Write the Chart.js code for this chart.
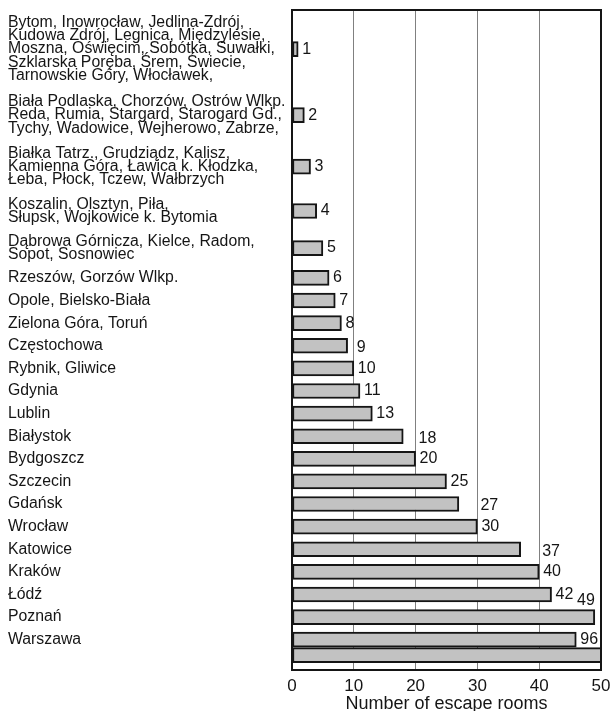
<!DOCTYPE html>
<html>
<head>
<meta charset="utf-8">
<script src="https://cdn.jsdelivr.net/npm/chart.js@4.4.1/dist/chart.umd.min.js"></script>
<style>
    html, body { margin: 0; padding: 0; background: #fff; }
    #wrap { width: 613px; height: 711px; position: relative; }
</style>
</head>
<body>
<div id="wrap"><canvas id="escapeChart"></canvas></div>
<script>
// City groups, top to bottom
const cityLabels = [
    ['Bytom, Inowrocław, Jedlina-Zdrój,', 'Kudowa Zdrój, Legnica, Międzylesie,', 'Moszna, Oświęcim, Sobótka, Suwałki,', 'Szklarska Poręba, Śrem, Świecie,', 'Tarnowskie Góry, Włocławek,'],
    ['Biała Podlaska, Chorzów, Ostrów Wlkp.', 'Reda, Rumia, Stargard, Starogard Gd.,', 'Tychy, Wadowice, Wejherowo, Zabrze,'],
    ['Białka Tatrz., Grudziądz, Kalisz,', 'Kamienna Góra, Ławica k. Kłodzka,', 'Łeba, Płock, Tczew, Wałbrzych'],
    ['Koszalin, Olsztyn, Piła,', 'Słupsk, Wojkowice k. Bytomia'],
    ['Dąbrowa Górnicza, Kielce, Radom,', 'Sopot, Sosnowiec'],
    'Rzeszów, Gorzów Wlkp.',
    'Opole, Bielsko-Biała',
    'Zielona Góra, Toruń',
    'Częstochowa',
    'Rybnik, Gliwice',
    'Gdynia',
    'Lublin',
    'Białystok',
    'Bydgoszcz',
    'Szczecin',
    'Gdańsk',
    'Wrocław',
    'Katowice',
    'Kraków',
    'Łódź',
    'Poznań',
    'Warszawa'
];

// Bar lengths as drawn (last one is the Warszawa bar running off the axis)
const barValues = [1, 2, 3, 4, 5, 6, 7, 8, 9, 10, 11, 13, 18, 20, 25, 27, 30, 37, 40, 42, 49, 46, 96];
const valueLabels = ['1', '2', '3', '4', '5', '6', '7', '8', '9', '10', '11', '13', '18', '20', '25', '27', '30', '37', '40', '42', '49', '96', ''];
const xTicks = [0, 10, 20, 30, 40, 50];

const FONT = "'Liberation Sans', Arial, sans-serif";
const INK = '#151515';

// Row slots: multi-line labels need more room than single-line ones
function lineCount(l) { return Array.isArray(l) ? l.length : 1; }
const rowSlots = [0];
for (let i = 1; i < cityLabels.length; i++) {
    const n = lineCount(cityLabels[i - 1]) + lineCount(cityLabels[i]);
    rowSlots.push(rowSlots[i - 1] + 0.32 * n + 0.36);
}
rowSlots.push(rowSlots[rowSlots.length - 1] + 0.68); // overflow bar under Warszawa
const lastCity = rowSlots[cityLabels.length - 1];

// Frame round the plot area
const framePlugin = {
    id: 'frame',
    afterDatasetsDraw(chart) {
        const { ctx, chartArea: a } = chart;
        ctx.save();
        ctx.strokeStyle = INK;
        ctx.lineWidth = 2;
        ctx.strokeRect(a.left, a.top, a.right - a.left, a.bottom - a.top);
        ctx.restore();
    }
};

// Value labels at bar ends, pushed past gridlines when they would cross one
const valuePlugin = {
    id: 'values',
    afterDraw(chart) {
        const { ctx, chartArea: a } = chart;
        const xs = chart.scales.x, ys = chart.scales.y;
        ctx.save();
        ctx.font = '16px ' + FONT;
        ctx.fillStyle = INK;
        ctx.textBaseline = 'middle';
        barValues.forEach((v, i) => {
            const txt = valueLabels[i];
            if (!txt) return;
            const end = xs.getPixelForValue(Math.min(v, 50));
            const w = ctx.measureText(txt).width;
            let x = end + 4;
            let y = ys.getPixelForValue(rowSlots[i]);
            if (x + w > a.right - 2) {
                ctx.textAlign = 'right';
                ctx.fillText(txt, end, y - 16);
                return;
            }
            for (const g of xTicks) {
                const gp = xs.getPixelForValue(g);
                if (gp > x && gp < x + w - 2) { x = gp + 3; y += 2; }
            }
            ctx.textAlign = 'left';
            ctx.fillText(txt, x, y);
        });
        ctx.restore();
    }
};

new Chart(document.getElementById('escapeChart'), {
    type: 'bar',
    data: {
        datasets: [{
            data: barValues.map((v, i) => ({ x: v, y: rowSlots[i] })),
            backgroundColor: '#c2c2c2',
            borderColor: INK,
            borderWidth: 2,
            borderSkipped: false,
            barThickness: 15
        }]
    },
    options: {
        indexAxis: 'y',
        responsive: true,
        maintainAspectRatio: false,
        animation: false,
        layout: { padding: { left: 8, top: 10, right: 12, bottom: 0 } },
        plugins: {
            legend: { display: false },
            tooltip: { enabled: false }
        },
        scales: {
            x: {
                type: 'linear',
                min: 0,
                max: 50,
                afterBuildTicks: (s) => { s.ticks = xTicks.map(v => ({ value: v })); },
                afterFit: (s) => { s.height = 41; s.paddingLeft = 0; s.paddingRight = 0; },
                grid: { color: '#808080', lineWidth: 1, drawTicks: false },
                border: { display: false },
                ticks: { color: INK, padding: 6, font: { family: FONT, size: 17 } },
                title: {
                    display: true,
                    text: 'Number of escape rooms',
                    color: INK,
                    padding: { top: 0, bottom: 0 },
                    font: { family: FONT, size: 18, lineHeight: '14px' }
                }
            },
            y: {
                type: 'linear',
                reverse: true,
                offset: false,
                min: -1.73,
                max: lastCity + 1.34,
                afterBuildTicks: (s) => { s.ticks = cityLabels.map((l, i) => ({ value: rowSlots[i] })); },
                afterFit: (s) => { s.width = 284; s.paddingTop = 0; s.paddingBottom = 0; },
                grid: { display: false },
                border: { display: false },
                ticks: {
                    autoSkip: false,
                    crossAlign: 'far',
                    color: INK,
                    font: { family: FONT, size: 15.8, lineHeight: '13.3px' },
                    callback: (value, index) => cityLabels[index]
                }
            }
        }
    },
    plugins: [framePlugin, valuePlugin]
});
</script>
</body>
</html>
